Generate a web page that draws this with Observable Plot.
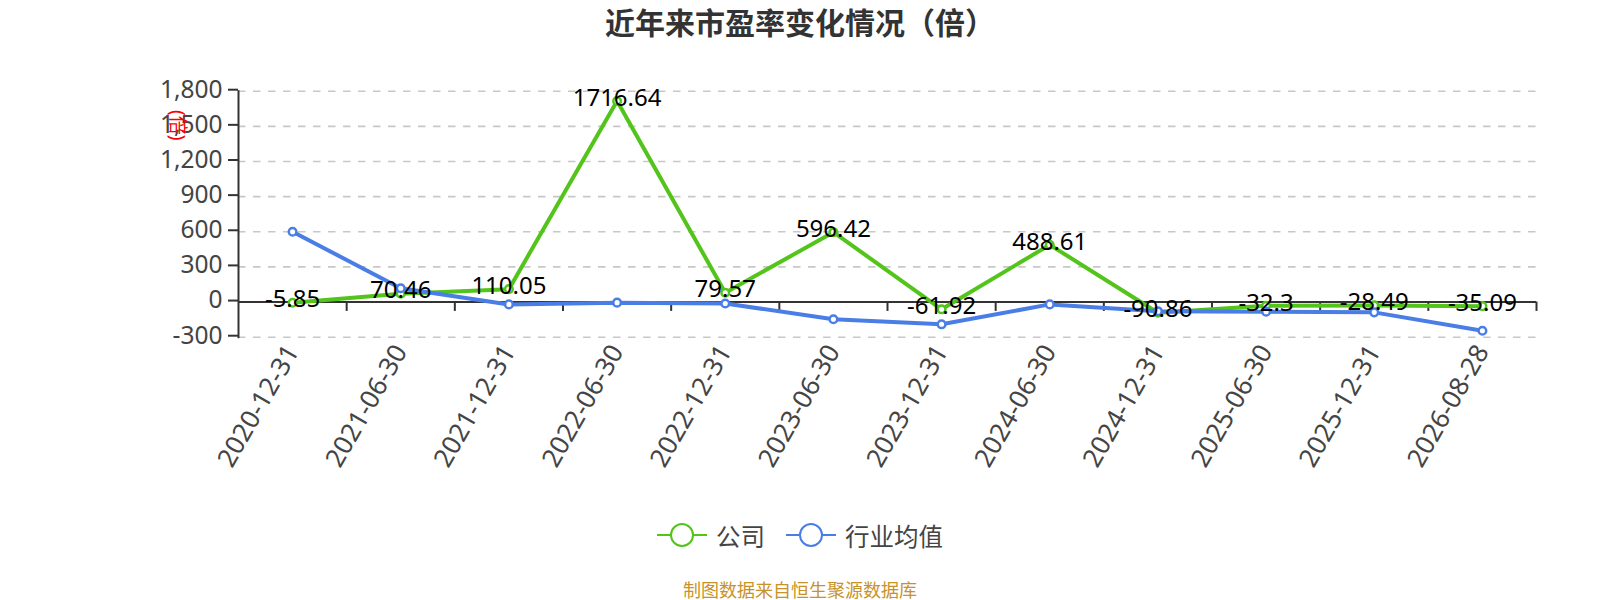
<!DOCTYPE html>
<html><head><meta charset="utf-8">
<script src="https://cdn.jsdelivr.net/npm/d3@7"></script>
<script src="https://cdn.jsdelivr.net/npm/@observablehq/plot@0.6"></script>
<style>
html,body{margin:0;padding:0;background:#fff;width:1600px;height:600px;overflow:hidden;font-family:"Noto Sans","Noto Sans CJK SC",sans-serif}
#title{height:52px;line-height:46px;text-align:center;font-size:30px;font-weight:700;color:#333}
#chart{height:428px}
#legend{display:flex;justify-content:center;align-items:center;height:50px;margin-top:30px;font-size:24.5px;color:#444;gap:21px}
#legend span.i{display:flex;align-items:center;gap:9px}
#caption{height:40px;text-align:center;font-size:18px;color:#c8922a;line-height:60px}
svg{display:block}
</style></head><body>
<div id="title">近年来市盈率变化情况（倍）</div>
<div id="chart"></div>
<div id="legend"></div>
<div id="caption">制图数据来自恒生聚源数据库</div>
<script>
const dates=["2020-12-31","2021-06-30","2021-12-31","2022-06-30","2022-12-31","2023-06-30","2023-12-31","2024-06-30","2024-12-31","2025-06-30","2025-12-31","2026-08-28"];
const company=[-5.85,70.46,110.05,1716.64,79.57,596.42,-61.92,488.61,-90.86,-32.3,-28.49,-35.09];
const industry=[600,118,-20,-5,-12,-147,-190,-20,-78,-82,-88,-245];
const yTicks=[-300,0,300,600,900,1200,1500,1800];
const GREEN="#52c41a",BLUE="#4a7ee6",INK="#333",LABEL="#444";
const co=dates.map((d,i)=>({d,v:company[i]}));
const ind=dates.map((d,i)=>({d,v:industry[i]}));
const halfStep=(1536-238)/12/2;
const plot=Plot.plot({
  width:1600,height:428,marginLeft:238,marginRight:64,marginTop:38.7,marginBottom:143.3,
  style:{fontFamily:'"Noto Sans","Noto Sans CJK SC",sans-serif',background:"transparent",overflow:"visible"},
  x:{type:"band",domain:dates,padding:0,round:false,label:null},
  y:{domain:[-300,1800],label:null},
  marks:[
    Plot.ruleY(yTicks.filter(t=>t!==0),{stroke:"#c8c8c8",strokeWidth:1.6,strokeDasharray:"7.5 7.5"}),
    Plot.ruleY([0],{stroke:INK,strokeWidth:2}),
    Plot.ruleX(dates,{x:d=>d,y1:0,y2:-80,dx:halfStep,stroke:INK,strokeWidth:2}),
    Plot.frame({anchor:"left",stroke:INK,strokeWidth:2}),
    Plot.axisY({ticks:yTicks,tickFormat:d=>d.toLocaleString("en-US"),tickSize:10,tickPadding:6,fontSize:24.5,color:LABEL,stroke:INK,strokeWidth:2,label:null,dy:-1.5}),
    Plot.text(["(倍)"],{frameAnchor:"top-left",dx:-61,dy:34,text:d=>d,rotate:90,fontSize:19,fill:"#f00",textAnchor:"middle",lineAnchor:"middle"}),
    Plot.line(co,{x:"d",y:"v",stroke:GREEN,strokeWidth:4}),
    Plot.dot(co,{x:"d",y:"v",r:3.8,fill:"#fff",stroke:GREEN,strokeWidth:2.5}),
    Plot.line(ind,{x:"d",y:"v",stroke:BLUE,strokeWidth:4}),
    Plot.dot(ind,{x:"d",y:"v",r:3.8,fill:"#fff",stroke:BLUE,strokeWidth:2.5}),
    Plot.text(co,{x:"d",y:"v",text:d=>String(d.v),fontSize:24,fill:"#000",lineAnchor:"middle",dy:-3}),
    Plot.axisX({anchor:"bottom",tickSize:0,tickRotate:-60,fontSize:26,color:LABEL,textAnchor:"end",tickPadding:10,label:null})
  ]
});
document.getElementById("chart").append(plot);
document.getElementById("legend").innerHTML=[["公司",GREEN],["行业均值",BLUE]].map(([t,c])=>`<span class="i"><svg width="50" height="26"><line x1="0" x2="50" y1="13" y2="13" stroke="${c}" stroke-width="2"/><circle cx="25" cy="13" r="11" fill="#fff" stroke="${c}" stroke-width="2"/></svg>${t}</span>`).join("");
</script></body></html>
